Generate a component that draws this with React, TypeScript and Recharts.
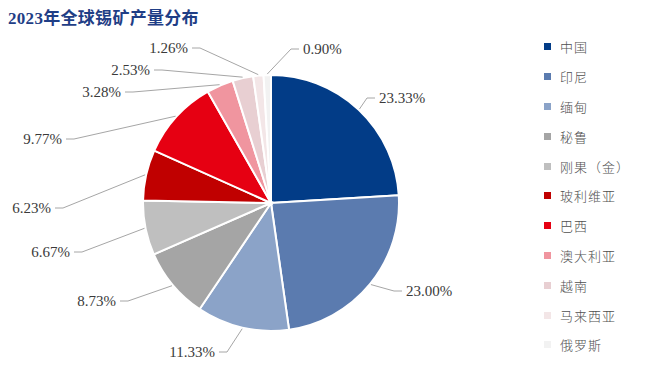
import { Legend, Pie, PieChart } from "recharts"

const TITLE = "2023年全球锡矿产量分布"

const COUNTRIES = ["中国", "印尼", "缅甸", "秘鲁", "刚果（金）", "玻利维亚", "巴西", "澳大利亚", "越南", "马来西亚", "俄罗斯"]
const SHARES = [23.33, 23.0, 11.33, 8.73, 6.67, 6.23, 9.77, 3.28, 2.53, 1.26, 0.9]
const COLORS = ["#023C87", "#5B7BAF", "#8BA3C8", "#A5A5A5", "#BFBFBF", "#C00000", "#E60012", "#F0959F", "#E8CFD2", "#F3E6E7", "#F2F2F2"]

// where each label's text sits (near edge x, middle y) and which side of the pie
const LABEL_ANCHORS: [number, number, number][] = [
    [379, 98, 1],
    [406, 291, 1],
    [215, 352, -1],
    [116, 301, -1],
    [70, 252, -1],
    [51, 208, -1],
    [62, 139, -1],
    [121, 92, -1],
    [150, 70, -1],
    [188, 48, -1],
    [303, 49, 1],
]

const pieData = COUNTRIES.map((name, i) => ({ name, value: SHARES[i], fill: COLORS[i] }))

const FONT = '"Liberation Serif", "Noto Sans CJK SC", serif'

const renderLabel = ({ cx, cy, midAngle, outerRadius, index, value }: any) => {
    const radian = Math.PI / 180
    const sx = cx + (outerRadius + 1) * Math.cos(-midAngle * radian)
    const sy = cy + (outerRadius + 1) * Math.sin(-midAngle * radian)
    const [ax, ay, side] = LABEL_ANCHORS[index]
    const ex = ax - side * 4
    const mx = ax - side * 12
    return (
        <g>
            <polyline
                points={`${sx},${sy} ${mx},${ay} ${ex},${ay}`}
                fill="none"
                stroke="#A6A6A6"
                strokeWidth={1}
            />
            <text
                x={ax}
                y={ay}
                fill="#3A3A3A"
                textAnchor={side > 0 ? "start" : "end"}
                dominantBaseline="central"
                fontSize={15}
                fontFamily={FONT}
            >
                {value.toFixed(2)}%
            </text>
        </g>
    )
}

const renderLegend = () => (
    <div>
        {pieData.map((d) => (
            <div key={d.name} style={{ height: 29.8, display: "flex", alignItems: "center" }}>
                <span style={{ width: 7, height: 7, background: d.fill, display: "inline-block", marginLeft: 6, marginRight: 9 }} />
                <span style={{ fontSize: 13, color: "#505050", fontFamily: FONT, fontWeight: 300, letterSpacing: 1 }}>{d.name}</span>
            </div>
        ))}
    </div>
)

export default function App() {
    return (
        <div style={{ position: "absolute", left: 0, top: 0, width: 652, height: 369, background: "#fff" }}>
            <div
                style={{
                    position: "absolute",
                    left: 8,
                    top: 4,
                    fontSize: 17,
                    fontWeight: "bold",
                    color: "#1F3E86",
                    fontFamily: FONT,
                    letterSpacing: 0.3,
                    zIndex: 2,
                }}
            >
                {TITLE}
            </div>
            <PieChart width={652} height={369} margin={{ top: 0, right: 0, bottom: 0, left: 0 }}>
                <Pie
                    data={pieData}
                    dataKey="value"
                    nameKey="name"
                    cx={271}
                    cy={203}
                    outerRadius={128}
                    startAngle={90}
                    endAngle={-270}
                    stroke="#fff"
                    strokeWidth={2}
                    label={renderLabel}
                    labelLine={false}
                    isAnimationActive={false}
                />
                <Legend
                    layout="vertical"
                    content={renderLegend}
                    wrapperStyle={{ left: 538, top: 32, width: 114 }}
                />
            </PieChart>
        </div>
    )
}
